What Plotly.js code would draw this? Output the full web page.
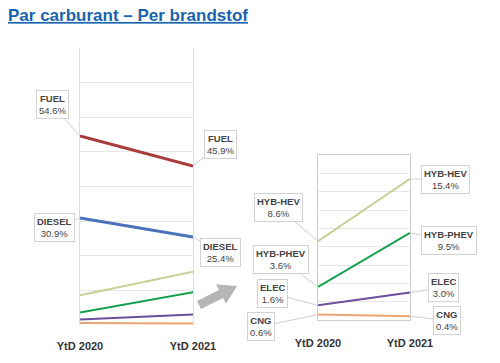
<!DOCTYPE html>
<html>
<head>
<meta charset="utf-8">
<script src="https://cdn.plot.ly/plotly-3.0.1.min.js"></script>
<style>html,body{margin:0;padding:0;background:#fff}#chart{width:500px;height:363px}</style>
</head>
<body>
<div id="chart"></div>
<script>
// ---- data ----
const categories = ['YtD 2020', 'YtD 2021'];
const seriesNames = ['FUEL', 'DIESEL', 'HYB-HEV', 'HYB-PHEV', 'ELEC', 'CNG'];
const fuel = [54.6, 45.9];
const diesel = [30.9, 25.4];
const hybHev = [8.6, 15.4];
const hybPhev = [3.6, 9.5];
const elec = [1.6, 3.0];
const cng = [0.6, 0.4];
const titleText = 'Par carburant – Per brandstof';

// ---- styling ----
const values = [fuel, diesel, hybHev, hybPhev, elec, cng];
const colors = ['#a83c3c', '#4a73b9', '#cbcd98', '#15a050', '#6a4f9d', '#eba474'];
const widths = [3, 3, 2, 2, 2, 2];

const W = 500, H = 363;
const px = x => x / W;
const py = y => 1 - y / H;

const traces = [];
values.forEach((v, i) => {
  traces.push({x: categories, y: v, xaxis: 'x', yaxis: 'y', mode: 'lines', name: seriesNames[i],
    line: {color: colors[i], width: widths[i]}});
});
[2, 3, 4, 5].forEach(i => {
  traces.push({x: categories, y: values[i], xaxis: 'x2', yaxis: 'y2', mode: 'lines', name: seriesNames[i],
    line: {color: colors[i], width: 2}});
});

// callout offsets (pixels) [series index, point index, axis suffix, ax, ay]
const callouts = [
  [0, 0, '', -28, -31], [0, 1, '', 27, -22],
  [1, 0, '', -26, 9], [1, 1, '', 27, 15],
  [2, 0, '2', -40, -34], [2, 1, '2', 35, 1],
  [3, 0, '2', -37, -28], [3, 1, '2', 39, 8],
  [4, 0, '2', -46, -12], [4, 1, '2', 33, -5],
  [5, 0, '2', -57, 12], [5, 1, '2', 37, 4]
];
const annotations = callouts.map(([s, p, ax2, ax, ay]) => ({
  xref: 'x' + ax2, yref: 'y' + ax2, x: categories[p], y: values[s][p],
  text: '<b>' + seriesNames[s] + '</b><br>' + values[s][p].toFixed(1) + '%',
  showarrow: true, arrowhead: 0, arrowwidth: 1, arrowcolor: '#cfcfcf', ax: ax, ay: ay,
  bgcolor: '#ffffff', bordercolor: '#d2d2d2', borderwidth: 1, borderpad: 2,
  font: {family: 'Liberation Sans, Arial, sans-serif', size: 9.5, color: '#444'}, align: 'center'
}));

function blockArrow(tx, ty, hx, hy) {
  const dx = hx - tx, dy = hy - ty, L = Math.hypot(dx, dy);
  const ux = dx / L, uy = dy / L, nx = -uy, ny = ux;
  const bx = tx + ux * L * 0.58, by = ty + uy * L * 0.58;
  const pts = [
    [tx + nx * 4.5, ty + ny * 4.5], [bx + nx * 4.5, by + ny * 4.5], [bx + nx * 11, by + ny * 11],
    [hx, hy], [bx - nx * 11, by - ny * 11], [bx - nx * 4.5, by - ny * 4.5], [tx - nx * 4.5, ty - ny * 4.5]
  ];
  return 'M ' + pts.map(p => px(p[0]).toFixed(4) + ' ' + py(p[1]).toFixed(4)).join(' L ') + ' Z';
}

const axisFont = {family: 'Liberation Sans, Arial, sans-serif', size: 11, color: '#333'};
const layout = {
  width: W, height: H, margin: {l: 0, r: 0, t: 0, b: 0},
  paper_bgcolor: '#fff', plot_bgcolor: '#fff', showlegend: false, hovermode: false,
  font: {family: 'Liberation Sans, Arial, sans-serif'},
  title: {text: '<b><u>' + titleText + '</u></b>', xref: 'container', yref: 'container',
    x: px(8), xanchor: 'left', y: py(15), yanchor: 'middle',
    font: {family: 'Liberation Sans, Arial, sans-serif', size: 17, color: '#1a64ad'}},
  xaxis: {domain: [px(80), px(193)], type: 'category', range: [0, 1], showgrid: false,
    zeroline: false, showline: false, ticks: '', tickfont: axisFont, ticklabelstandoff: 13,
    tickprefix: '<b>', ticksuffix: '</b>'},
  yaxis: {domain: [py(325), py(48)], range: [0, 80], tickvals: [10, 20, 30, 40, 50, 60, 70],
    showgrid: true, gridcolor: '#e6e6e6', zeroline: false, showticklabels: false,
    showline: true, mirror: true, linecolor: '#dedede', linewidth: 1},
  xaxis2: {domain: [px(318), px(410)], type: 'category', range: [0, 1], anchor: 'y2', showgrid: false,
    zeroline: false, showline: true, mirror: true, linecolor: '#cccccc', ticks: '', tickfont: axisFont,
    ticklabelstandoff: 13, tickprefix: '<b>', ticksuffix: '</b>'},
  yaxis2: {domain: [py(320), py(155)], range: [0, 18], dtick: 2, anchor: 'x2', showgrid: true, gridcolor: '#e6e6e6',
    zeroline: false, showticklabels: false, showline: true, mirror: true, linecolor: '#cccccc'},
  annotations: annotations,
  shapes: [{type: 'path', xref: 'paper', yref: 'paper', path: blockArrow(199, 305, 237, 286),
    fillcolor: '#b5b5b5', line: {width: 0}}]
};

Plotly.newPlot('chart', traces, layout, {staticPlot: true, displayModeBar: false});
</script>
</body>
</html>
